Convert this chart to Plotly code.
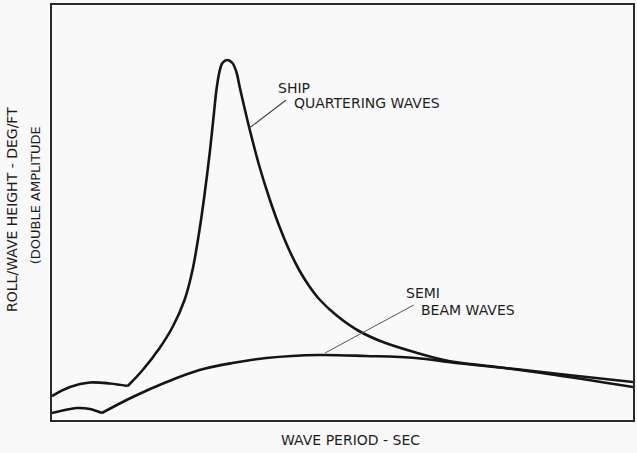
import plotly.graph_objects as go

# Wave period (s) and roll / wave height (deg/ft), ship in quartering waves
quarter_period = [4.00, 4.72, 5.52, 6.32, 7.04, 7.64, 8.32, 8.84, 9.32, 9.64, 9.92,
                  10.12, 10.32, 10.48, 10.60, 10.72, 10.84, 11.04, 11.24, 11.40, 11.56,
                  11.92, 12.32, 12.72, 13.12, 13.52, 13.92, 14.32, 14.72, 15.40, 16.32,
                  17.28, 18.60, 19.92, 21.52, 23.92, 27.32]
quarter_roll = [0.120, 0.165, 0.1875, 0.1825, 0.170, 0.250, 0.360, 0.465, 0.600, 0.750,
                0.950, 1.125, 1.325, 1.510, 1.650, 1.740, 1.785, 1.800, 1.785, 1.740,
                1.650, 1.460, 1.270, 1.110, 0.970, 0.850, 0.750, 0.670, 0.605, 0.525,
                0.445, 0.390, 0.3375, 0.295, 0.270, 0.230, 0.165]
quarter_cusp = 4  # sharp corner at the end of the low-period hump

# Ship in semi beam waves
beam_period = [4.00, 4.52, 5.00, 5.52, 6.00, 7.24, 8.60, 9.92, 11.24, 12.60, 14.72,
               16.60, 18.60, 20.20, 22.60, 24.72, 27.32]
beam_roll = [0.035, 0.050, 0.060, 0.055, 0.035, 0.115, 0.190, 0.250, 0.285, 0.310,
             0.325, 0.320, 0.310, 0.285, 0.255, 0.225, 0.190]
beam_cusp = 4

X_RANGE = [4.0, 27.32]
Y_RANGE = [0.0, 2.075]

INK = "#151515"
TEXT = "#1e1e1e"
BG = "#f9f9f9"
FONT = "DejaVu Sans"

fig = go.Figure()


def add_curve(xs, ys, cusp):
    # split at the corner so the spline keeps it sharp
    for seg_x, seg_y in ((xs[:cusp + 1], ys[:cusp + 1]), (xs[cusp:], ys[cusp:])):
        fig.add_trace(go.Scatter(
            x=seg_x, y=seg_y, mode="lines",
            line=dict(color=INK, width=2.6, shape="spline", smoothing=1.0),
            hoverinfo="skip", showlegend=False,
        ))


add_curve(quarter_period, quarter_roll, quarter_cusp)
add_curve(beam_period, beam_roll, beam_cusp)

# leader lines from labels to curves
fig.add_shape(type="line", x0=11.92, y0=1.46, x1=13.40, y1=1.60,
              line=dict(color="#444444", width=1.1))
fig.add_shape(type="line", x0=14.96, y0=0.335, x1=18.52, y1=0.575,
              line=dict(color="#555555", width=1.0))

label_font = dict(family=FONT, size=14, color=TEXT)
for txt, x, y in [("SHIP", 13.00, 1.66), ("QUARTERING WAVES", 13.64, 1.585),
                  ("SEMI", 18.13, 0.635), ("BEAM WAVES", 18.75, 0.55)]:
    fig.add_annotation(x=x, y=y, xref="x", yref="y", text=txt, showarrow=False,
                       xanchor="left", yanchor="middle", font=label_font)

# axis titles
fig.add_annotation(x=0.5146, y=-0.048, xref="paper", yref="paper",
                   text="WAVE PERIOD - SEC", showarrow=False,
                   xanchor="center", yanchor="middle",
                   font=dict(family=FONT, size=14, color=TEXT))
fig.add_annotation(x=-0.069, y=0.5084, xref="paper", yref="paper",
                   text="ROLL/WAVE HEIGHT - DEG/FT", textangle=-90, showarrow=False,
                   xanchor="center", yanchor="middle",
                   font=dict(family=FONT, size=14, color=TEXT))
fig.add_annotation(x=-0.029, y=0.542, xref="paper", yref="paper",
                   text="(DOUBLE AMPLITUDE", textangle=-90, showarrow=False,
                   xanchor="center", yanchor="middle",
                   font=dict(family=FONT, size=13, color=TEXT))

axis_common = dict(showline=True, mirror=True, linecolor="#2a2a2a", linewidth=1.5,
                   showgrid=False, zeroline=False, showticklabels=False, ticks="")
fig.update_xaxes(range=X_RANGE, **axis_common)
fig.update_yaxes(range=Y_RANGE, **axis_common)

fig.update_layout(
    width=637, height=453,
    margin=dict(l=52, r=2, t=5, b=33),
    paper_bgcolor=BG, plot_bgcolor=BG,
)

fig.write_html("out.html")
